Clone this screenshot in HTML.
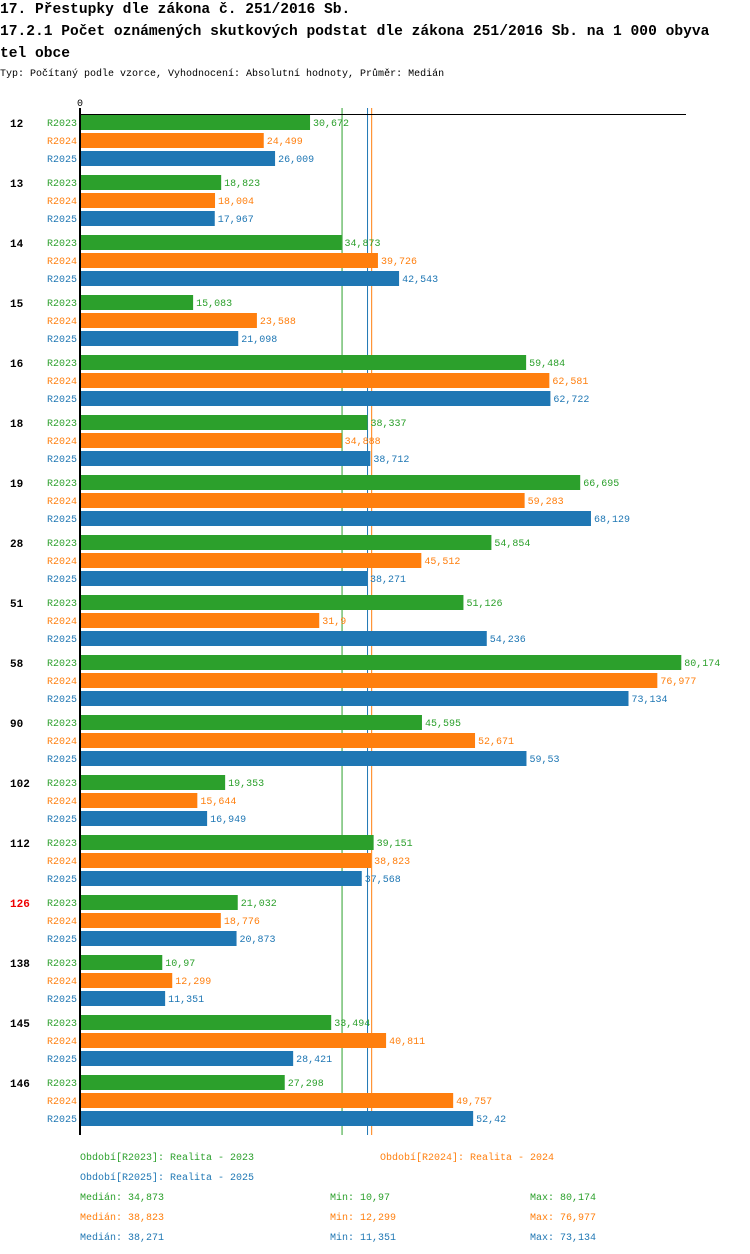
<!DOCTYPE html>
<html><head><meta charset="utf-8"><style>
body{margin:0;background:#fff;width:750px;height:1254px;overflow:hidden}
svg{display:block}
text{font-family:"Liberation Mono",monospace}
</style></head><body>
<svg id="c" width="750" height="1254" xmlns="http://www.w3.org/2000/svg">
<text x="0" y="13" font-size="14.6" font-weight="bold">17. Přestupky dle zákona č. 251/2016 Sb.</text>
<text x="0" y="35" font-size="14.6" font-weight="bold">17.2.1 Počet oznámených skutkových podstat dle zákona 251/2016 Sb. na 1 000 obyva</text>
<text x="0" y="57" font-size="14.6" font-weight="bold">tel obce</text>
<text x="0" y="76" font-size="10">Typ: Počítaný podle vzorce, Vyhodnocení: Absolutní hodnoty, Průměr: Medián</text>
<text x="77" y="106" font-size="10">0</text>
<g id="medians"></g>
<g id="marks"></g>
<line x1="80" y1="114.5" x2="686" y2="114.5" stroke="#000"/>
<line x1="80" y1="108" x2="80" y2="1135" stroke="#000" stroke-width="2"/>
</svg>
<script>
const categories=["12","13","14","15","16","18","19","28","51","58","90","102","112","126","138","145","146"];
const r2023=[30.672,18.823,34.873,15.083,59.484,38.337,66.695,54.854,51.126,80.174,45.595,19.353,39.151,21.032,10.97,33.494,27.298];
const r2024=[24.499,18.004,39.726,23.588,62.581,34.888,59.283,45.512,31.9,76.977,52.671,15.644,38.823,18.776,12.299,40.811,49.757];
const r2025=[26.009,17.967,42.543,21.098,62.722,38.712,68.129,38.271,54.236,73.134,59.53,16.949,37.568,20.873,11.351,28.421,52.42];
const seriesNames=["R2023","R2024","R2025"];
const medians=[34.873,38.823,38.271];
const mins=[10.97,12.299,11.351];
const maxs=[80.174,76.977,73.134];
const legendLabels=["Realita - 2023","Realita - 2024","Realita - 2025"];
const colors=["#2ca02c","#ff7f0e","#1f77b4"];
const NS="http://www.w3.org/2000/svg";
const x=v=>80+v*7.5;
const fmt=v=>String(v).replace('.',',');
const g=document.getElementById('marks');
const gm=document.getElementById('medians');
const svg=document.getElementById('c');
function el(tag,attrs,txt){const e=document.createElementNS(NS,tag);for(const k in attrs)e.setAttribute(k,attrs[k]);if(txt!=null)e.textContent=txt;return e;}
const series=[r2023,r2024,r2025];
medians.forEach((m,j)=>{
  const ln=el('line',{x1:x(m)+0.5,x2:x(m)+0.5,y1:108,y2:1135,stroke:colors[j],'stroke-width':1});
  
  
  gm.appendChild(ln);
});
categories.forEach((c,i)=>{
  const y0=115+i*60;
  const t=el('text',{x:10,y:y0+12,'font-size':11,'font-weight':'bold',fill:c==="126"?"#e00":"#000"},c);
  
  
  g.appendChild(t);
  series.forEach((s,j)=>{
    const y=y0+j*18;
    const l=el('text',{x:77,y:y+11,'font-size':10,'text-anchor':'end',fill:colors[j]},seriesNames[j]);
    
    
    g.appendChild(l);
    const r=el('rect',{x:81,y:y,width:x(s[i])-81,height:15,fill:colors[j]});
    
    
    g.appendChild(r);
    const v=el('text',{x:x(s[i])+3,y:y+11,'font-size':10,fill:colors[j]},fmt(s[i]));
    
    
    g.appendChild(v);
  });
});
const lg=[[80,1160,0],[380,1160,1],[80,1180,2]];
lg.forEach(([lx,ly,j])=>{
  const t=el('text',{x:lx,y:ly,'font-size':10,fill:colors[j]},'Období['+seriesNames[j]+']: '+legendLabels[j]);
  
  
  svg.appendChild(t);
});
[0,1,2].forEach(j=>{
  const y=1200+j*20;
  const a=el('text',{x:80,y:y,'font-size':10,fill:colors[j]},'Medián: '+fmt(medians[j]));
  
  
  svg.appendChild(a);
  const b=el('text',{x:330,y:y,'font-size':10,fill:colors[j]},'Min: '+fmt(mins[j]));
  
  
  svg.appendChild(b);
  const c=el('text',{x:530,y:y,'font-size':10,fill:colors[j]},'Max: '+fmt(maxs[j]));
  
  
  svg.appendChild(c);
});
</script>
</body></html>
